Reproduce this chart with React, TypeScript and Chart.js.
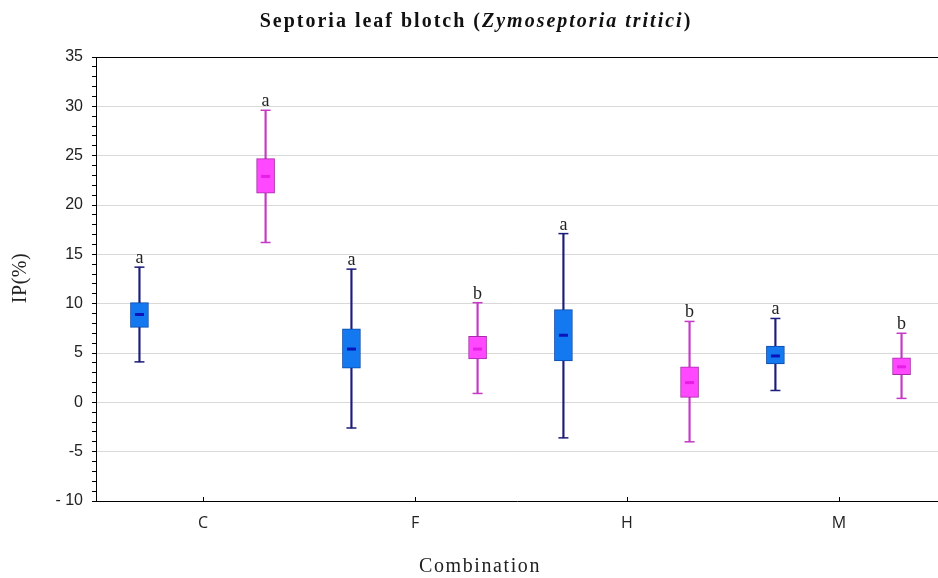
import React, { useEffect, useRef } from "react";
import { Chart, registerables } from "chart.js";

Chart.register(...registerables);

const categories = ["C", "F", "H", "M"];
const blueMin = [4.1, -2.6, -3.6, 1.2];
const blueQ1 = [7.6, 3.45, 4.2, 3.9];
const blueMed = [8.9, 5.4, 6.8, 4.7];
const blueQ3 = [10.1, 7.45, 9.4, 5.7];
const blueMax = [13.7, 13.5, 17.1, 8.5];
const pinkMin = [16.2, 0.9, -4.0, 0.4];
const pinkQ1 = [21.2, 4.4, 0.5, 2.8];
const pinkMed = [22.9, 5.4, 2.0, 3.6];
const pinkQ3 = [24.7, 6.7, 3.6, 4.5];
const pinkMax = [29.6, 10.1, 8.2, 7.0];
const blueLetters = ["a", "a", "a", "a"];
const pinkLetters = ["a", "b", "b", "b"];
const blueOffset = -0.3;
const pinkOffset = 0.295;

const titleParts = ["Septoria leaf blotch (", "Zymoseptoria tritici", ")"];
const xTitle = "Combination";
const yTitle = "IP(%)";

const BLUE_FILL = "#1479f0";
const BLUE_BORDER = "#0b4aa8";
const BLUE_WHISK = "#1c1c7c";
const BLUE_MED = "#0a14b8";
const PINK_FILL = "#ff48ff";
const PINK_BORDER = "#a82aa8";
const PINK_WHISK = "#c43ac4";
const PINK_MED = "#e61ee6";

const SERIF = "'Liberation Serif', 'DejaVu Serif', serif";

const textPlugin = {
  id: "texts",
  afterDraw(chart: any) {
    const ctx = chart.ctx;
    ctx.save();
    const fonts = [`bold 20px ${SERIF}`, `italic bold 20px ${SERIF}`, `bold 20px ${SERIF}`];
    ctx.letterSpacing = "2px";
    let total = 0;
    titleParts.forEach((t, i) => {
      ctx.font = fonts[i];
      total += ctx.measureText(t).width;
    });
    let x = 476 - total / 2;
    ctx.fillStyle = "#111";
    ctx.textBaseline = "middle";
    ctx.textAlign = "left";
    titleParts.forEach((t, i) => {
      ctx.font = fonts[i];
      ctx.fillText(t, x, 22);
      x += ctx.measureText(t).width;
    });
    ctx.letterSpacing = "1.6px";
    ctx.font = `20px ${SERIF}`;
    ctx.fillStyle = "#222";
    ctx.textAlign = "center";
    ctx.fillText(xTitle, 480, 567);
    ctx.letterSpacing = "0.5px";
    ctx.translate(21, 278);
    ctx.rotate(-Math.PI / 2);
    ctx.fillText(yTitle, 0, 0);
    ctx.restore();
  },
};

const decorPlugin = {
  id: "decor",
  afterDatasetsDraw(chart: any) {
    const ctx = chart.ctx;
    const xs = chart.scales.x;
    const ys = chart.scales.y;
    const area = chart.chartArea;
    ctx.save();
    ctx.strokeStyle = "#000";
    ctx.lineWidth = 1;
    ctx.beginPath();
    ctx.moveTo(area.left, area.top + 0.5);
    ctx.lineTo(area.right, area.top + 0.5);
    ctx.stroke();
    categories.forEach((_, i) => {
      const px = Math.round(xs.getPixelForValue(i)) + 0.5;
      ctx.beginPath();
      ctx.moveTo(px, area.bottom);
      ctx.lineTo(px, area.bottom - 4);
      ctx.stroke();
    });
    ctx.font = `18px ${SERIF}`;
    ctx.fillStyle = "#222";
    ctx.textAlign = "center";
    ctx.textBaseline = "alphabetic";
    categories.forEach((_, i) => {
      ctx.fillText(blueLetters[i], xs.getPixelForValue(i + blueOffset), ys.getPixelForValue(blueMax[i]) - 4);
      ctx.fillText(pinkLetters[i], xs.getPixelForValue(i + pinkOffset), ys.getPixelForValue(pinkMax[i]) - 4);
    });
    ctx.restore();
  },
};

export default function App() {
  const ref = useRef<HTMLCanvasElement>(null);
  useEffect(() => {
    document.body.style.margin = "0";
    const bx = (i: number) => i + blueOffset;
    const px = (i: number) => i + pinkOffset;
    const chart = new Chart(ref.current as HTMLCanvasElement, {
      type: "bar",
      data: {
        datasets: [
          {
            type: "bar",
            data: categories.map((_, i) => ({ x: bx(i), y: [blueMin[i], blueMax[i]] })) as any,
            backgroundColor: BLUE_WHISK,
            barThickness: 1.5,
            grouped: false,
            order: 5,
          } as any,
          {
            type: "bar",
            data: categories.map((_, i) => ({ x: px(i), y: [pinkMin[i], pinkMax[i]] })) as any,
            backgroundColor: PINK_WHISK,
            barThickness: 1.5,
            grouped: false,
            order: 5,
          } as any,
          {
            type: "bar",
            data: categories.map((_, i) => ({ x: bx(i), y: [blueQ1[i], blueQ3[i]] })) as any,
            backgroundColor: BLUE_FILL,
            borderColor: BLUE_BORDER,
            borderWidth: 1,
            borderSkipped: false,
            barThickness: 18,
            grouped: false,
            order: 2,
          } as any,
          {
            type: "bar",
            data: categories.map((_, i) => ({ x: px(i), y: [pinkQ1[i], pinkQ3[i]] })) as any,
            backgroundColor: PINK_FILL,
            borderColor: PINK_BORDER,
            borderWidth: 1,
            borderSkipped: false,
            barThickness: 18,
            grouped: false,
            order: 2,
          } as any,
          {
            type: "scatter",
            data: categories.flatMap((_, i) => [
              { x: bx(i), y: blueMin[i] },
              { x: bx(i), y: blueMax[i] },
            ]),
            pointStyle: "line",
            radius: 5,
            borderColor: BLUE_WHISK,
            borderWidth: 1.5,
            order: 1,
          } as any,
          {
            type: "scatter",
            data: categories.flatMap((_, i) => [
              { x: px(i), y: pinkMin[i] },
              { x: px(i), y: pinkMax[i] },
            ]),
            pointStyle: "line",
            radius: 5,
            borderColor: PINK_WHISK,
            borderWidth: 1.5,
            order: 1,
          } as any,
          {
            type: "scatter",
            data: categories.map((_, i) => ({ x: bx(i), y: blueMed[i] })),
            pointStyle: "line",
            radius: 4.5,
            borderColor: BLUE_MED,
            borderWidth: 3,
            order: 0,
          } as any,
          {
            type: "scatter",
            data: categories.map((_, i) => ({ x: px(i), y: pinkMed[i] })),
            pointStyle: "line",
            radius: 4.5,
            borderColor: PINK_MED,
            borderWidth: 3,
            order: 0,
          } as any,
        ],
      },
      options: {
        responsive: false,
        animation: false,
        layout: { autoPadding: false, padding: { top: 57, right: 0, left: 0, bottom: 0 } },
        plugins: { legend: { display: false }, tooltip: { enabled: false }, title: { display: false } },
        scales: {
          x: {
            type: "linear",
            offset: false,
            min: -0.505,
            max: 3.467,
            afterBuildTicks: (axis: any) => {
              axis.ticks = categories.map((_, i) => ({ value: i }));
            },
            afterFit: (axis: any) => {
              axis.height = 77;
            },
            ticks: {
              callback: (v: any) => categories[Math.round(Number(v))] ?? "",
              font: { family: "'Open Sans', sans-serif", size: 16 },
              color: "#222",
              padding: 13,
              maxRotation: 0,
            },
            grid: { display: true, drawOnChartArea: false, drawTicks: false, offset: false },
            border: { display: true, color: "#000", width: 1 },
            title: { display: false },
          },
          y: {
            min: -10,
            max: 35,
            afterFit: (axis: any) => {
              axis.width = 96;
            },
            ticks: {
              stepSize: 1,
              autoSkip: false,
              callback: (v: any) => (Number(v) % 5 === 0 ? (Number(v) === -10 ? "- 10" : String(v)) : ""),
              font: { family: "'Liberation Sans', Arial, sans-serif", size: 16 },
              color: "#222",
              padding: 9,
            },
            grid: {
              color: (c: any) => (c.tick && c.tick.value % 5 === 0 ? "#d9d9d9" : "rgba(0,0,0,0)"),
              tickColor: "#000",
              tickLength: 4,
              lineWidth: 1,
            },
            border: { display: true, color: "#000", width: 1 },
            title: { display: false },
          },
        },
      },
      plugins: [textPlugin, decorPlugin],
    } as any);
    return () => chart.destroy();
  }, []);
  return (
    <div style={{ width: 938, height: 578 }}>
      <canvas ref={ref} width={938} height={578} />
    </div>
  );
}
